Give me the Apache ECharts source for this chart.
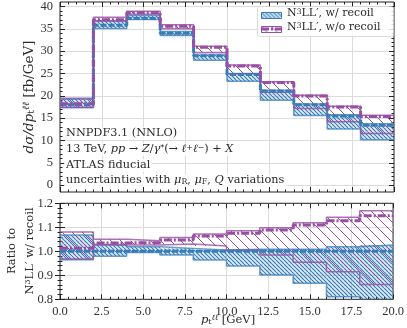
<!DOCTYPE html>
<html>
<head>
<meta charset="utf-8">
<script src="https://cdn.jsdelivr.net/npm/echarts@6/dist/echarts.min.js"></script>
<style>
  html, body { margin: 0; padding: 0; background: #fff; }
  #chart { width: 407px; height: 328px; }
</style>
</head>
<body>
<div id="chart"></div>
<script>
// bin edges in p_t^ll [GeV]
const edges = [0, 2, 4, 6, 8, 10, 12, 14, 16, 18, 20];
// N3LL', w/ recoil : central, lower, upper [fb/GeV]
const recoilC  = [18.0, 35.8, 37.3, 34.0, 29.0, 24.8, 21.1, 18.0, 15.5, 13.4];
const recoilLo = [17.37, 35.08, 37.11, 33.49, 27.96, 23.29, 19.01, 15.61, 12.57, 10.18];
const recoilHi = [19.22, 36.80, 38.01, 34.41, 29.15, 25.00, 21.27, 18.18, 15.79, 13.75];
// N3LL', w/o recoil
const norecC  = [18.22, 37.05, 38.64, 35.60, 30.86, 26.66, 22.98, 19.98, 17.48, 15.38];
const norecLo = [17.42, 36.73, 38.27, 35.02, 29.64, 24.92, 20.78, 17.17, 14.18, 11.55];
const norecHi = [19.44, 37.59, 38.94, 35.94, 31.09, 26.93, 23.17, 20.14, 17.70, 15.66];
// tick labels
const xTicks = [0, 2.5, 5, 7.5, 10, 12.5, 15, 17.5, 20];
const yTicksTop = [0, 5, 10, 15, 20, 25, 30, 35, 40];
const yTicksRatio = [0.8, 0.9, 1.0, 1.1, 1.2];

const BLUE = '#377eb8';
const PURPLE = '#984ea3';
const FONT = 'Liberation Serif';
const TFONT = 'DejaVu Serif';
const INK = '#222';
const TXT = '#2a2a2a';

// hatch tiles ("\" direction)
const hatch = (size, color, lw, bg) => {
  const c = document.createElement('canvas');
  c.width = c.height = size;
  const g = c.getContext('2d');
  if (bg) { g.fillStyle = bg; g.fillRect(0, 0, size, size); }
  g.strokeStyle = color;
  g.lineWidth = lw;
  g.beginPath();
  for (const o of [-size, 0, size]) { g.moveTo(o, 0); g.lineTo(o + size, size); }
  g.stroke();
  return c;
};
const blueHatch = { image: hatch(4, BLUE, 1.1, 'rgba(55,126,184,0.18)'), repeat: 'repeat' };
const purpleHatch = { image: hatch(10, PURPLE, 1, null), repeat: 'repeat' };

const ratio = arr => arr.map((v, i) => v / recoilC[i]);
const stepPts = vals => {
  const p = vals.map((v, i) => [edges[i], v]);
  p.push([edges[edges.length - 1], vals[vals.length - 1]]);
  return p;
};
const bandData = (lo, hi) => lo.map((l, i) => [edges[i], edges[i + 1], l, hi[i]]);

const bandFill = (lo, hi, fill, xi, yi) => ({
  type: 'custom', xAxisIndex: xi, yAxisIndex: yi, clip: true, silent: true,
  data: bandData(lo, hi),
  renderItem: (params, api) => {
    const a = api.coord([api.value(0), api.value(3)]);
    const b = api.coord([api.value(1), api.value(2)]);
    return { type: 'rect', shape: { x: a[0], y: a[1], width: b[0] - a[0], height: b[1] - a[1] }, style: { fill: fill } };
  }
});
const stepLine = (vals, color, width, type, xi, yi) => ({
  type: 'line', xAxisIndex: xi, yAxisIndex: yi, step: 'end', symbol: 'none', silent: true,
  data: stepPts(vals),
  lineStyle: { color: color, width: width, type: type }
});

const panel = (c, lo, hi, nc, nlo, nhi, xi, yi) => [
  bandFill(lo, hi, blueHatch, xi, yi),
  stepLine(hi, 'rgba(55,126,184,0.75)', 1.5, 'solid', xi, yi),
  stepLine(lo, 'rgba(55,126,184,0.75)', 1.5, 'solid', xi, yi),
  bandFill(nlo, nhi, purpleHatch, xi, yi),
  stepLine(nhi, 'rgba(152,78,163,0.8)', 1.5, 'solid', xi, yi),
  stepLine(nlo, 'rgba(152,78,163,0.8)', 1.5, 'solid', xi, yi),
  stepLine(c, BLUE, 3, [6, 2], xi, yi),
  stepLine(nc, PURPLE, 3, [8, 2, 2, 2], xi, yi)
];

const tickCommon = { show: true, inside: true, length: 5, lineStyle: { color: INK } };
const minorCommon = { show: true, splitNumber: 5, length: 2.5, lineStyle: { color: INK } };
const gridLine = { show: true, showMinLine: false, showMaxLine: false, lineStyle: { color: '#dcdcdc', width: 1 } };
const labelFont = { fontFamily: FONT, fontSize: 12.5, color: '#333' };

const xBase = (grid, pos, extra) => Object.assign({
  type: 'value', gridIndex: grid, position: pos, min: xTicks[0], max: xTicks[xTicks.length - 1],
  interval: xTicks[1] - xTicks[0], axisLine: { show: false }, axisTick: tickCommon, minorTick: minorCommon,
  axisLabel: { show: false }, splitLine: { show: false }
}, extra);

// rich text helpers
const tx = (size, extra) => Object.assign({ fontFamily: TFONT, fontSize: size, fill: TXT }, extra);
const richSet = size => ({
  i: tx(size, { fontStyle: 'italic' }),
  s: tx(size * 0.7, { verticalAlign: 'bottom' }),
  u: tx(size * 0.7, { verticalAlign: 'top' }),
  ui: tx(size * 0.7, { verticalAlign: 'top', fontStyle: 'italic' })
});
const boxText = (top, text) => ({
  type: 'text', left: 64, top: top, z: 50,
  style: Object.assign(tx(11.3), { text: text, backgroundColor: 'rgba(255,255,255,0.8)', padding: [1, 2], rich: richSet(11.3) })
});

const chart = echarts.init(document.getElementById('chart'), null, { renderer: 'canvas' });
chart.setOption({
  animation: false,
  grid: [
    { left: 60, right: 13, top: 2, height: 190, show: true, borderColor: INK, borderWidth: 1, backgroundColor: 'transparent' },
    { left: 60, right: 13, top: 5.2, height: 180 },
    { left: 60, right: 13, top: 203.3, height: 96, show: true, borderColor: INK, borderWidth: 1, backgroundColor: 'transparent' }
  ],
  xAxis: [
    xBase(0, 'bottom', { splitLine: gridLine }),
    xBase(0, 'top', {}),
    xBase(1, 'bottom', { show: false }),
    xBase(2, 'bottom', { splitLine: gridLine, axisLabel: Object.assign({ show: true, margin: 6, formatter: v => v.toFixed(1) }, labelFont) }),
    xBase(2, 'top', {})
  ],
  yAxis: [
    { type: 'value', gridIndex: 0, min: 0, max: 1, show: false },
    { type: 'value', gridIndex: 1, position: 'left', min: yTicksTop[0], max: yTicksTop[yTicksTop.length - 1],
      interval: yTicksTop[1] - yTicksTop[0], axisLine: { show: false }, axisTick: tickCommon, minorTick: minorCommon,
      axisLabel: Object.assign({ margin: 7 }, labelFont), splitLine: { show: true, lineStyle: { color: '#dcdcdc', width: 1 } } },
    { type: 'value', gridIndex: 1, position: 'right', min: yTicksTop[0], max: yTicksTop[yTicksTop.length - 1],
      interval: yTicksTop[1] - yTicksTop[0], axisLine: { show: false }, axisTick: tickCommon, minorTick: minorCommon,
      axisLabel: { show: false }, splitLine: { show: false } },
    { type: 'value', gridIndex: 2, position: 'left', min: yTicksRatio[0], max: yTicksRatio[yTicksRatio.length - 1],
      interval: 0.1, axisLine: { show: false }, axisTick: tickCommon, minorTick: minorCommon,
      axisLabel: Object.assign({ margin: 7, formatter: v => v.toFixed(1) }, labelFont), splitLine: gridLine },
    { type: 'value', gridIndex: 2, position: 'right', min: yTicksRatio[0], max: yTicksRatio[yTicksRatio.length - 1],
      interval: 0.1, axisLine: { show: false }, axisTick: tickCommon, minorTick: minorCommon,
      axisLabel: { show: false }, splitLine: { show: false } }
  ],
  series: [
    ...panel(recoilC, recoilLo, recoilHi, norecC, norecLo, norecHi, 2, 1),
    ...panel(ratio(recoilC), ratio(recoilLo), ratio(recoilHi), ratio(norecC), ratio(norecLo), ratio(norecHi), 3, 3)
  ],
  graphic: [
    // legend
    { type: 'rect', left: 257, top: 6, shape: { width: 136, height: 30, r: 2 }, z: 50,
      style: { fill: 'rgba(255,255,255,0.85)', stroke: 'rgba(200,200,200,0.6)', lineWidth: 1 } },
    { type: 'rect', left: 261, top: 12, shape: { width: 20, height: 6 }, z: 51,
      style: { fill: blueHatch, stroke: BLUE, lineWidth: 1 } },
    { type: 'rect', left: 261, top: 26, shape: { width: 20, height: 6 }, z: 51,
      style: { fill: purpleHatch, stroke: PURPLE, lineWidth: 1 } },
    { type: 'line', shape: { x1: 261, y1: 29, x2: 281, y2: 29 }, z: 52,
      style: { stroke: PURPLE, lineWidth: 3, lineDash: [8, 2, 2, 2] } },
    { type: 'text', left: 287, top: 8, z: 52,
      style: Object.assign(tx(11), { text: 'N{u|3}LL′, w/ recoil', rich: richSet(11) }) },
    { type: 'text', left: 287, top: 22, z: 52,
      style: Object.assign(tx(11), { text: 'N{u|3}LL′, w/o recoil', rich: richSet(11) }) },
    // annotations
    boxText(127, 'NNPDF3.1 (NNLO)'),
    boxText(143, '13 TeV, {i|pp} → {i|Z}/{i|γ}{u|*}(→ {i|ℓ}{u|+}{i|ℓ}{u|−}) + {i|X}'),
    boxText(159, 'ATLAS fiducial'),
    boxText(174, 'uncertainties with {i|μ}{s|R}, {i|μ}{s|F}, {i|Q} variations'),
    // axis titles
    { type: 'text', x: 29, y: 97, rotation: Math.PI / 2,
      style: Object.assign(tx(13.5), { text: '{i|dσ/dp}{s|t}{ui|ℓℓ} [fb/GeV]', align: 'center', verticalAlign: 'middle', rich: richSet(13.5) }) },
    { type: 'text', x: 12, y: 251, rotation: Math.PI / 2,
      style: Object.assign(tx(11.5), { text: 'Ratio to', align: 'center', verticalAlign: 'middle' }) },
    { type: 'text', x: 30, y: 251, rotation: Math.PI / 2,
      style: Object.assign(tx(11.5), { text: 'N{u|3}LL′ w/ recoil', align: 'center', verticalAlign: 'middle', rich: richSet(11.5) }) },
    { type: 'text', x: 228, y: 320,
      style: Object.assign(tx(11.5), { text: '{i|p}{s|t}{ui|ℓℓ} [GeV]', align: 'center', verticalAlign: 'middle', rich: richSet(11.5) }) }
  ]
});
</script>
</body>
</html>
